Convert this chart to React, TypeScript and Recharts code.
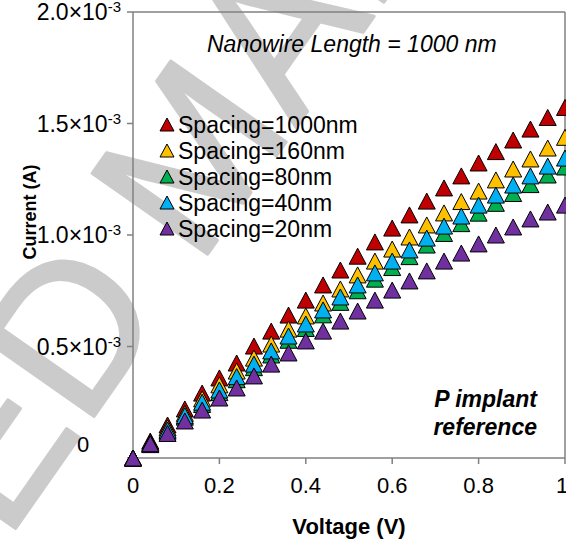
import { ScatterChart, Scatter, XAxis, YAxis, ReferenceLine } from 'recharts';

// voltage sweep (V)
const voltage = [0, 0.04, 0.08, 0.12, 0.16, 0.2, 0.24, 0.28, 0.32, 0.36, 0.4, 0.44, 0.48, 0.52, 0.56, 0.6, 0.64, 0.68, 0.72, 0.76, 0.8, 0.84, 0.88, 0.92, 0.96, 1.0];

// current, in units of 10^-3 A
const spacing1000 = [0, 0.076, 0.148, 0.22, 0.291, 0.359, 0.426, 0.502, 0.569, 0.641, 0.708, 0.776, 0.843, 0.905, 0.969, 1.031, 1.09, 1.152, 1.211, 1.265, 1.323, 1.374, 1.426, 1.475, 1.527, 1.572];
const spacing160 = [0, 0.07, 0.135, 0.2, 0.265, 0.328, 0.39, 0.448, 0.511, 0.578, 0.637, 0.695, 0.758, 0.821, 0.883, 0.937, 0.991, 1.045, 1.099, 1.15, 1.197, 1.247, 1.296, 1.341, 1.39, 1.438];
const spacing80 = [0, 0.06, 0.12, 0.183, 0.24, 0.293, 0.351, 0.405, 0.462, 0.528, 0.581, 0.642, 0.698, 0.75, 0.802, 0.854, 0.903, 0.955, 1.007, 1.051, 1.098, 1.142, 1.186, 1.226, 1.269, 1.305];
const spacing40 = [0, 0.063, 0.125, 0.19, 0.25, 0.305, 0.365, 0.421, 0.48, 0.547, 0.601, 0.664, 0.722, 0.776, 0.83, 0.883, 0.933, 0.986, 1.04, 1.085, 1.134, 1.179, 1.224, 1.265, 1.309, 1.345];
const spacing20 = [0, 0.064, 0.11, 0.166, 0.215, 0.269, 0.314, 0.368, 0.421, 0.471, 0.525, 0.569, 0.614, 0.659, 0.708, 0.753, 0.794, 0.839, 0.883, 0.919, 0.96, 1.0, 1.036, 1.072, 1.103, 1.134];

const seriesNames = ['Spacing=1000nm', 'Spacing=160nm', 'Spacing=80nm', 'Spacing=40nm', 'Spacing=20nm'];
const seriesColors = ['#C00000', '#FFC000', '#00B050', '#00B0F0', '#7030A0'];
const seriesValues = [spacing1000, spacing160, spacing80, spacing40, spacing20];

const xTicks = [0, 0.2, 0.4, 0.6, 0.8, 1];
const xTickLabels = ['0', '0.2', '0.4', '0.6', '0.8', '1'];
const yTicks = [0, 0.5, 1, 1.5, 2];

const FONT = '"Liberation Sans", Arial, sans-serif';
const AXIS = '#808080';

const Triangle = (props: any) => {
  const { cx, cy, fill } = props;
  if (cx == null || cy == null) return null;
  const w = 17, h = 16;
  return (
    <path
      d={`M${cx},${cy - h / 2}L${cx + w / 2},${cy + h / 2}L${cx - w / 2},${cy + h / 2}Z`}
      fill={fill}
      stroke="#000"
      strokeWidth={1}
    />
  );
};

const XTick = (props: any) => {
  const { x, payload } = props;
  const i = xTicks.indexOf(payload.value);
  return (
    <text x={x} y={493} textAnchor="middle" fontSize={22} fontFamily={FONT} fill="#000">
      {i >= 0 ? xTickLabels[i] : payload.value}
    </text>
  );
};

const YTick = (props: any) => {
  const { y, payload } = props;
  if (payload.value === 0) {
    return (
      <text x={83} y={452} textAnchor="middle" fontSize={22} fontFamily={FONT} fill="#000">0</text>
    );
  }
  return (
    <text x={121} y={y + 8} textAnchor="end" fontSize={23} fontFamily={FONT} fill="#000">
      {payload.value.toFixed(1)}×10<tspan dy={-8} fontSize={15}>-3</tspan>
    </text>
  );
};

export default function App() {
  const data = seriesValues.map(vals => vals.map((i, k) => ({ v: voltage[k], i })));

  return (
    <div style={{ position: 'fixed', left: 0, top: 0, width: 566, height: 546, background: '#fff', overflow: 'hidden' }}>
      {/* watermark behind everything */}
      <svg width={566} height={546} style={{ position: 'absolute', left: 0, top: 0 }}>
        <g
          transform="translate(198 268) rotate(-55)"
          fontSize={205}
          fontFamily={FONT}
          fill="#cbcbcb"
          stroke="#cbcbcb"
          strokeWidth={3}
          strokeLinejoin="round"
        >
          <text x={-50} y={0} textAnchor="end">ACCEPTED</text>
          <text x={0} y={0} textAnchor="start">MANUSCRIPT</text>
        </g>
      </svg>

      <div style={{ position: 'absolute', left: 0, top: 0 }}>
        <ScatterChart width={566} height={546} margin={{ top: 12, right: 1, bottom: 0, left: 0 }}>
          <XAxis
            type="number"
            dataKey="v"
            domain={[0, 1]}
            ticks={xTicks}
            height={88}
            stroke={AXIS}
            strokeWidth={1.5}
            tickSize={6}
            tick={<XTick />}
          />
          <YAxis
            type="number"
            dataKey="i"
            domain={[0, 2]}
            ticks={yTicks}
            width={133}
            stroke={AXIS}
            strokeWidth={1.5}
            tickSize={6}
            tick={<YTick />}
          />
          <ReferenceLine y={2} stroke={AXIS} strokeWidth={1.5} />
          <ReferenceLine x={1} stroke={AXIS} strokeWidth={1.5} />
          {data.map((d, k) => (
            <Scatter
              key={seriesNames[k]}
              name={seriesNames[k]}
              data={d}
              fill={seriesColors[k]}
              shape={<Triangle />}
              isAnimationActive={false}
            />
          ))}
        </ScatterChart>
      </div>

      {/* annotations, legend and axis titles */}
      <svg width={566} height={546} style={{ position: 'absolute', left: 0, top: 0, pointerEvents: 'none' }}>
        <text x={207} y={52} fontSize={23} fontStyle="italic" fontFamily={FONT} fill="#000">
          Nanowire Length = 1000 nm
        </text>
        {seriesNames.map((name, k) => {
          const cy = 125 + k * 26;
          return (
            <g key={name}>
              <path d={`M167,${cy - 7}L174,${cy + 6}L160,${cy + 6}Z`} fill={seriesColors[k]} stroke="#000" strokeWidth={1} />
              <text x={178} y={cy + 8} fontSize={23} fontFamily={FONT} fill="#000">{name}</text>
            </g>
          );
        })}
        <text x={537} y={407} textAnchor="end" fontSize={23} fontWeight="bold" fontStyle="italic" fontFamily={FONT} fill="#000">
          P implant
        </text>
        <text x={537} y={435} textAnchor="end" fontSize={23} fontWeight="bold" fontStyle="italic" fontFamily={FONT} fill="#000">
          reference
        </text>
        <text x={349} y={534} textAnchor="middle" fontSize={22} fontWeight="bold" fontFamily={FONT} fill="#000">
          Voltage (V)
        </text>
        <text
          x={30}
          y={212}
          transform="rotate(-90 30 212)"
          textAnchor="middle"
          dominantBaseline="central"
          fontSize={18}
          fontWeight="bold"
          fontFamily={FONT}
          fill="#000"
        >
          Current (A)
        </text>
      </svg>
    </div>
  );
}
